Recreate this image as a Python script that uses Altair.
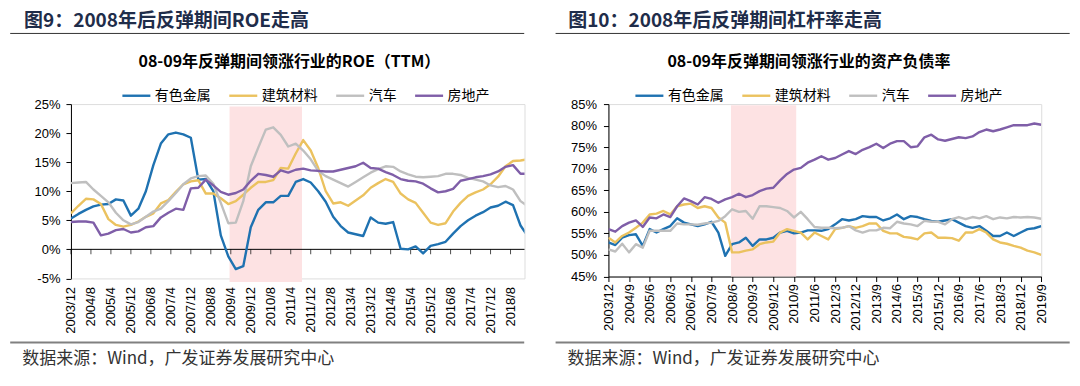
import json
import altair as alt
import pandas as pd

CJK = "Noto Sans CJK SC"
LATIN = "Liberation Sans"

SERIES = ["有色金属", "建筑材料", "汽车", "房地产"]
COLORS = ["#1f72b1", "#ebc25f", "#bfbfbf", "#7f5ea8"]
WIDTHS = [2.4, 2.4, 2.4, 3.6]
SHADE = "#fde2e3"

left_title = "图9：2008年后反弹期间ROE走高"
left_subtitle = "08-09年反弹期间领涨行业的ROE（TTM）"
right_title = "图10：2008年后反弹期间杠杆率走高"
right_subtitle = "08-09年反弹期间领涨行业的资产负债率"
source_text = "数据来源：Wind，广发证券发展研究中心"

left_tick_labels = ["2003/12", "2004/8", "2005/4", "2005/12", "2006/8", "2007/4",
                    "2007/12", "2008/8", "2009/4", "2009/12", "2010/8", "2011/4",
                    "2011/12", "2012/8", "2013/4", "2013/12", "2014/8", "2015/4",
                    "2015/12", "2016/8", "2017/4", "2017/12", "2018/8"]
right_tick_labels = ["2003/12", "2004/9", "2005/6", "2006/3", "2006/12", "2007/9",
                     "2008/6", "2009/3", "2009/12", "2010/9", "2011/6", "2012/3",
                     "2012/12", "2013/9", "2014/6", "2015/3", "2015/12", "2016/9",
                     "2017/6", "2018/3", "2018/12", "2019/9"]

# quarterly observations, 2003/12 .. 2019/3 (ROE TTM, %)
left_metals = [5.3, 6.1, 6.8, 7.4, 7.7, 7.8, 8.6, 8.4, 5.8, 7.0,
               10.0, 14.5, 18.2, 19.8, 20.1, 19.8, 19.2, 12.0, 12.1, 10.0,
               2.4, -1.2, -3.4, -2.9, 3.8, 6.8, 8.1, 8.1, 9.2, 9.2,
               11.6, 12.1, 11.5, 10.0, 8.2, 5.6, 4.0, 2.9, 2.6, 2.3,
               5.5, 4.6, 4.4, 4.7, 0.1, 0.0, 0.5, -0.7, 0.6, 0.9,
               1.3, 2.7, 4.0, 5.0, 5.8, 6.4, 7.2, 7.5, 8.2, 7.6,
               4.1, 2.2]
left_building = [6.2, 7.5, 8.7, 8.6, 7.8, 5.2, 4.2, 3.9, 4.2, 4.8,
                 5.6, 6.2, 7.9, 8.5, 9.9, 11.2, 11.7, 11.9, 9.6, 9.6,
                 8.8, 7.8, 8.3, 9.4, 10.6, 11.6, 11.6, 11.9, 14.0, 13.9,
                 16.5, 18.8, 17.0, 14.0, 10.0, 7.9, 8.1, 7.5, 8.4, 9.3,
                 10.6, 11.4, 12.1, 11.6, 9.6, 8.6, 8.0, 6.3, 4.6, 4.2,
                 4.5, 6.5, 8.0, 9.2, 9.8, 10.3, 11.2, 12.5, 14.3, 15.2,
                 15.3, 15.5]
left_auto = [11.4, 11.5, 11.6, 10.3, 9.2, 8.1, 6.3, 5.0, 4.3, 4.7,
             5.6, 6.5, 7.0, 8.3, 9.7, 11.2, 12.2, 12.6, 12.7, 11.3,
             8.0, 4.5, 4.6, 8.3, 14.3, 17.5, 20.6, 21.0, 19.7, 17.7,
             18.2, 17.0, 15.5, 13.5, 12.6, 12.0, 11.4, 10.8, 11.6, 12.4,
             13.2, 13.8, 14.3, 14.2, 13.4, 12.9, 12.5, 12.4, 12.5, 12.6,
             13.0, 13.0, 12.8, 12.3, 12.0, 11.7, 11.0, 10.7, 10.9, 10.3,
             8.3, 7.4]
left_realestate = [4.7, 4.8, 4.8, 4.6, 2.4, 2.7, 3.3, 3.5, 2.9, 3.1,
                   3.8, 4.0, 5.5, 6.3, 7.0, 6.8, 10.5, 10.6, 12.0, 11.0,
                   9.9, 9.4, 9.7, 10.3, 11.8, 13.0, 12.8, 12.5, 13.6, 13.2,
                   13.7, 13.9, 13.6, 13.5, 13.4, 13.4, 13.7, 14.0, 14.3, 14.9,
                   14.0, 13.9, 13.3, 12.8, 12.1, 11.8, 11.7, 11.3, 10.5, 9.8,
                   10.0, 10.4, 11.8, 12.1, 12.4, 12.6, 12.9, 13.4, 14.2, 14.5,
                   13.0, 13.0]

# quarterly observations, 2003/12 .. 2019/9 (asset-liability ratio, %)
right_metals = [52.9, 52.3, 54.0, 54.6, 54.8, 52.1, 56.0, 55.2, 56.0, 56.7,
                58.5, 57.5, 57.1, 56.7, 57.1, 57.7, 55.2, 49.8, 52.5, 52.9,
                54.0, 52.1, 53.6, 53.6, 54.0, 55.2, 55.6, 55.0, 55.2, 55.7,
                55.7, 55.6, 56.0, 57.1, 58.3, 58.0, 58.3, 59.0, 58.8, 58.8,
                58.0, 58.5, 59.4, 58.3, 59.0, 58.8, 58.3, 57.9, 57.7, 58.0,
                58.3, 57.5, 56.7, 56.3, 56.7, 55.6, 54.4, 54.4, 55.2, 54.4,
                55.2, 56.0, 56.2, 56.7]
right_building = [54.0, 52.9, 54.4, 55.2, 56.3, 57.5, 59.4, 59.6, 60.2, 59.4,
                  61.3, 61.7, 61.9, 60.9, 61.3, 60.9, 58.7, 57.5, 50.6, 50.6,
                  51.0, 51.3, 52.5, 52.9, 53.1, 55.2, 56.0, 55.6, 55.2, 53.6,
                  55.2, 54.4, 53.6, 56.0, 56.3, 56.7, 56.3, 56.7, 57.3, 57.3,
                  55.6, 55.0, 55.0, 54.2, 54.0, 53.6, 55.0, 55.2, 54.0, 54.0,
                  53.9, 53.3, 55.2, 55.2, 56.0, 55.2, 53.6, 52.9, 52.6, 52.1,
                  51.7, 51.0, 50.6, 50.0]
right_auto = [51.3, 50.8, 52.6, 50.6, 52.5, 51.7, 55.6, 55.6, 55.6, 55.6,
              57.3, 57.1, 57.1, 57.0, 57.3, 57.5, 57.9, 59.0, 60.6, 60.0,
              60.2, 58.4, 61.3, 61.3, 61.1, 60.9, 60.2, 58.7, 60.0, 58.3,
              56.5, 56.3, 56.3, 56.2, 56.3, 56.7, 55.7, 55.2, 55.7, 55.7,
              56.3, 56.2, 57.7, 57.3, 57.1, 56.7, 57.9, 57.7, 57.7, 57.1,
              58.3, 58.8, 58.3, 58.8, 58.5, 59.0, 58.3, 58.7, 58.5, 58.8,
              58.7, 58.8, 58.7, 58.4]
right_realestate = [56.0, 55.4, 56.7, 57.5, 58.0, 56.5, 58.7, 58.5, 59.4, 58.8,
                    61.3, 63.1, 62.5, 61.7, 63.4, 63.0, 62.1, 62.9, 63.4, 64.2,
                    63.4, 63.9, 64.8, 65.4, 65.6, 67.3, 68.8, 69.8, 70.2, 71.4,
                    72.1, 72.9, 72.1, 72.5, 73.3, 74.1, 73.4, 74.4, 75.0, 75.8,
                    74.8, 75.8, 76.4, 76.4, 75.0, 75.2, 77.3, 77.9, 76.8, 76.5,
                    76.9, 77.3, 77.1, 77.5, 78.5, 79.1, 78.7, 79.1, 79.6, 80.1,
                    80.1, 80.1, 80.5, 80.2]

# rebound period shading (months after 2003/12) and its vertical reach
left_shade = [63.5, 92.5]
left_shade_y = [24.6, -5.6]
right_shade = [53.5, 82.0]
right_shade_y = [84.7, 45.0]


def months_since_start(label):
    y, m = (int(p) for p in label.split("/"))
    return (y - 2003) * 12 + m - 12


def quarter_dates(count):
    out = []
    for i in range(count):
        mm = 11 + 3 * i
        out.append(f"{2003 + mm // 12}/{mm % 12 + 1}")
    return out


def long_df(values_by_series):
    dates = quarter_dates(len(values_by_series[0]))
    rows = []
    for name, vals in zip(SERIES, values_by_series):
        for d, v in zip(dates, vals):
            rows.append({"date": d, "month": months_since_start(d),
                         "series": name, "value": v})
    return pd.DataFrame(rows)


def one_text(txt, x, y, size, weight, color, align, font=CJK):
    return alt.Chart(pd.DataFrame({"t": [txt]})).mark_text(
        align=align, baseline="middle", font=font, fontSize=size,
        fontWeight=weight, color=color
    ).encode(x=alt.value(x), y=alt.value(y), text="t:N")


def hline(x1, x2, y, color, width):
    return alt.Chart(pd.DataFrame({"a": [0]})).mark_rule(
        color=color, strokeWidth=width
    ).encode(x=alt.value(x1), x2=alt.value(x2), y=alt.value(y))


def panel(df, width, height, xdom, ydom, yvals, tick_labels, shade, shade_y,
          title, subtitle, g, zero_axis):
    tick_months = [months_since_start(t) for t in tick_labels]
    label_expr = (f"{json.dumps(tick_labels)}"
                  f"[indexof({json.dumps(tick_months)}, datum.value)]")
    xaxis = alt.Axis(
        values=tick_months, labelExpr=label_expr, labelAngle=270,
        labelAlign="right", labelBaseline="middle", labelFont=LATIN,
        labelFontSize=13, labelColor="#000", labelOverlap=False,
        labelFlush=False, grid=False, title=None,
        domain=not zero_axis, domainColor="#000", domainWidth=1,
        ticks=not zero_axis, tickColor="#000",
        tickSize=0 if zero_axis else 5,
        labelPadding=8 if zero_axis else 2,
    )
    yaxis = alt.Axis(
        values=yvals, labelExpr="datum.value + '%'", labelFont=LATIN,
        labelFontSize=13, labelColor="#000", domainColor="#000",
        tickColor="#000", tickSize=5, labelPadding=g["ypad"], grid=False,
        title=None,
    )
    xs = alt.Scale(domain=xdom, nice=False, zero=False)
    ys = alt.Scale(domain=ydom, nice=False, zero=False)

    legend = alt.Legend(
        orient="none", legendX=g["legend_x"], legendY=g["legend_y"],
        direction="horizontal", columns=4, title=None, symbolType="stroke",
        symbolSize=784, labelFont=CJK, labelFontSize=14, labelColor="#000",
        labelOffset=3, columnPadding=13, labelLimit=200,
    )

    shade_df = pd.DataFrame({"s": [shade[0]], "e": [shade[1]],
                             "top": [shade_y[0]], "bottom": [shade_y[1]]})
    rect = alt.Chart(shade_df).mark_rect(color=SHADE).encode(
        x=alt.X("s:Q", scale=xs, axis=xaxis), x2="e:Q",
        y=alt.Y("top:Q", scale=ys, axis=yaxis), y2="bottom:Q",
    )
    lines = alt.Chart(df).mark_line(clip=True, strokeJoin="round").encode(
        x=alt.X("month:Q", scale=xs, axis=xaxis),
        y=alt.Y("value:Q", scale=ys, axis=yaxis),
        color=alt.Color("series:N", sort=SERIES,
                        scale=alt.Scale(domain=SERIES, range=COLORS),
                        legend=legend),
        strokeWidth=alt.StrokeWidth("series:N", sort=SERIES,
                                    scale=alt.Scale(domain=SERIES, range=WIDTHS),
                                    legend=legend),
    )
    layers = [rect]
    if zero_axis:
        zero = alt.Chart(pd.DataFrame({"z": [0]})).mark_rule(
            color="#000", strokeWidth=1
        ).encode(y=alt.Y("z:Q", scale=ys, axis=yaxis))
        zticks = alt.Chart(pd.DataFrame({"m": tick_months,
                                         "z": [0] * len(tick_months)})).mark_tick(
            color="#000", orient="vertical", thickness=1, size=5, yOffset=2.5
        ).encode(x=alt.X("m:Q", scale=xs, axis=xaxis),
                 y=alt.Y("z:Q", scale=ys, axis=yaxis))
        layers += [zero, zticks]
    layers += [
        lines,
        # white (invisible) spacer that fixes the top edge of the panel
        hline(g["line_x1"], g["line_x2"], -94.2, "#ffffff", 1),
        one_text(title, g["title_x"], -83.0, 19, "bold", "#1f2d4a", "left"),
        one_text(subtitle, g["sub_x"], -41.7, 16, "bold", "#000", "center"),
        hline(g["line_x1"], g["line_x2"], -70.7, "#333333", 1),
        hline(g["line_x1"], g["line_x2"], 238.7, "#808080", 2),
        one_text(source_text, g["src_x"], 255.5, 17, "normal", "#333333", "left"),
    ]
    return alt.layer(*layers).properties(width=width, height=height)


left_df = long_df([left_metals, left_building, left_auto, left_realestate])
right_df = long_df([right_metals, right_building, right_auto, right_realestate])

left = panel(
    left_df, 454, 174.5, [0, 181.6], [-5, 25], [-5, 0, 5, 10, 15, 20, 25],
    left_tick_labels, left_shade, left_shade_y, left_title, left_subtitle,
    dict(title_x=-46.9, sub_x=218.7, legend_x=50, legend_y=-24.1,
         line_x1=-60.8, line_x2=453.7, src_x=-48.7, ypad=6),
    True,
)
right = panel(
    right_df, 433.2, 172.6, [0, 189], [45, 85],
    [45, 50, 55, 60, 65, 70, 75, 80, 85],
    right_tick_labels, right_shade, right_shade_y, right_title, right_subtitle,
    dict(title_x=-40.3, sub_x=200.7, legend_x=25.5, legend_y=-24.1,
         line_x1=-52.9, line_x2=461.7, src_x=-40.9, ypad=7),
    False,
)

chart = alt.hconcat(left, right, spacing=27).resolve_scale(
    color="independent", strokeWidth="independent"
).properties(padding=0, background="white").configure_view(
    strokeWidth=0
).configure(font=LATIN)

chart.save("out.html", embed_options={"renderer": "svg", "actions": False})
